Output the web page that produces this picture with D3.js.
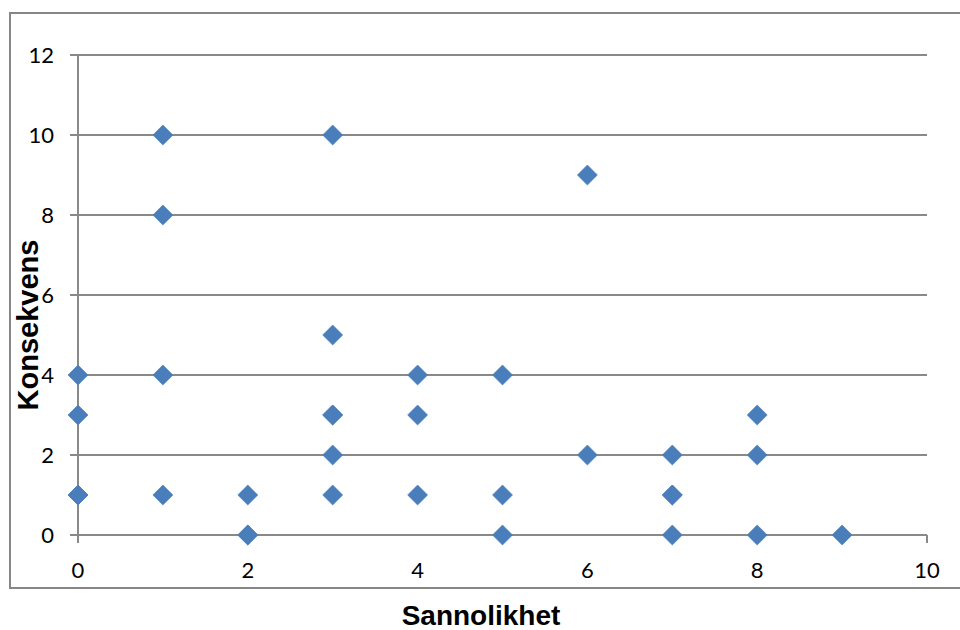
<!DOCTYPE html>
<html>
<head>
<meta charset="utf-8">
<script src="https://cdn.jsdelivr.net/npm/d3@7"></script>
<style>
  body { margin: 0; background: #fff; }
</style>
</head>
<body>
<div id="chart"></div>
<script>
  // points (some are drawn twice)
  const sannolikhet = [0, 0, 0, 0, 1, 1, 1, 1, 2, 2, 2, 3, 3, 3, 3, 3, 3, 4, 4, 4, 5, 5, 5, 6, 6, 7, 7, 7, 7, 8, 8, 8, 9];
  const konsekvens  = [1, 1, 3, 4, 1, 4, 8, 10, 0, 0, 1, 1, 2, 3, 3, 5, 10, 1, 3, 4, 0, 1, 4, 2, 9, 0, 1, 1, 2, 0, 2, 3, 0];
  const xTicks = [0, 2, 4, 6, 8, 10];
  const yTicks = [0, 2, 4, 6, 8, 10, 12];

  let width = 960, height = 630;

  let svg = d3.select("#chart")
    .append("svg")
    .attr("width", width)
    .attr("height", height);

  // outer chart border
  svg.append("rect")
    .attr("x", 10)
    .attr("y", 13)
    .attr("width", 970)
    .attr("height", 575)
    .attr("fill", "none")
    .attr("stroke", "#868686")
    .attr("stroke-width", 2);

  let xscale = d3.scaleLinear().domain([0, 10]).range([78, 927]);
  let yscale = d3.scaleLinear().domain([0, 12]).range([535, 55]);

  // horizontal gridlines with small left ticks
  svg.append("g")
    .selectAll("line")
    .data(yTicks)
    .join("line")
    .attr("x1", xscale(0) - 8)
    .attr("x2", xscale(10))
    .attr("y1", d => yscale(d))
    .attr("y2", d => yscale(d))
    .attr("stroke", "#898989")
    .attr("stroke-width", 2);

  // y axis line
  svg.append("line")
    .attr("x1", xscale(0))
    .attr("x2", xscale(0))
    .attr("y1", yscale(12))
    .attr("y2", yscale(0) + 8)
    .attr("stroke", "#898989")
    .attr("stroke-width", 2);

  // tick at the right end of the x axis
  svg.append("line")
    .attr("x1", xscale(10))
    .attr("x2", xscale(10))
    .attr("y1", yscale(0))
    .attr("y2", yscale(0) + 8)
    .attr("stroke", "#898989")
    .attr("stroke-width", 2);

  svg.append("g")
    .selectAll("text")
    .data(yTicks)
    .join("text")
    .attr("x", 54)
    .attr("y", d => yscale(d))
    .attr("dy", "0.36em")
    .attr("text-anchor", "end")
    .attr("font-family", "Lato, 'Open Sans', sans-serif")
    .attr("font-size", 22)
    .attr("fill", "#000")
    .text(d => d);

  svg.append("g")
    .selectAll("text")
    .data(xTicks)
    .join("text")
    .attr("x", d => xscale(d))
    .attr("y", yscale(0) + 43)
    .attr("text-anchor", "middle")
    .attr("font-family", "Lato, 'Open Sans', sans-serif")
    .attr("font-size", 22)
    .attr("fill", "#000")
    .text(d => d);

  // diamond markers
  const diamond = d3.symbol().type(d3.symbolSquare).size(200);
  svg.append("g")
    .selectAll("path")
    .data(sannolikhet.map((s, i) => ({ s: s, k: konsekvens[i] })))
    .join("path")
    .attr("d", diamond)
    .attr("transform", d => `translate(${xscale(d.s)},${yscale(d.k)}) rotate(45)`)
    .attr("fill", "#4a7ebb")
    .attr("stroke", "#4a7ebb")
    .attr("stroke-width", 0.6);

  svg.append("text")
    .attr("x", 481)
    .attr("y", 625)
    .attr("text-anchor", "middle")
    .attr("font-family", "'Liberation Sans', Arial, sans-serif")
    .attr("font-weight", "bold")
    .attr("font-size", 28)
    .text("Sannolikhet");

  svg.append("text")
    .attr("transform", "translate(38,325) rotate(-90)")
    .attr("text-anchor", "middle")
    .attr("font-family", "'Liberation Sans', Arial, sans-serif")
    .attr("font-weight", "bold")
    .attr("font-size", 29)
    .text("Konsekvens");
</script>
</body>
</html>
